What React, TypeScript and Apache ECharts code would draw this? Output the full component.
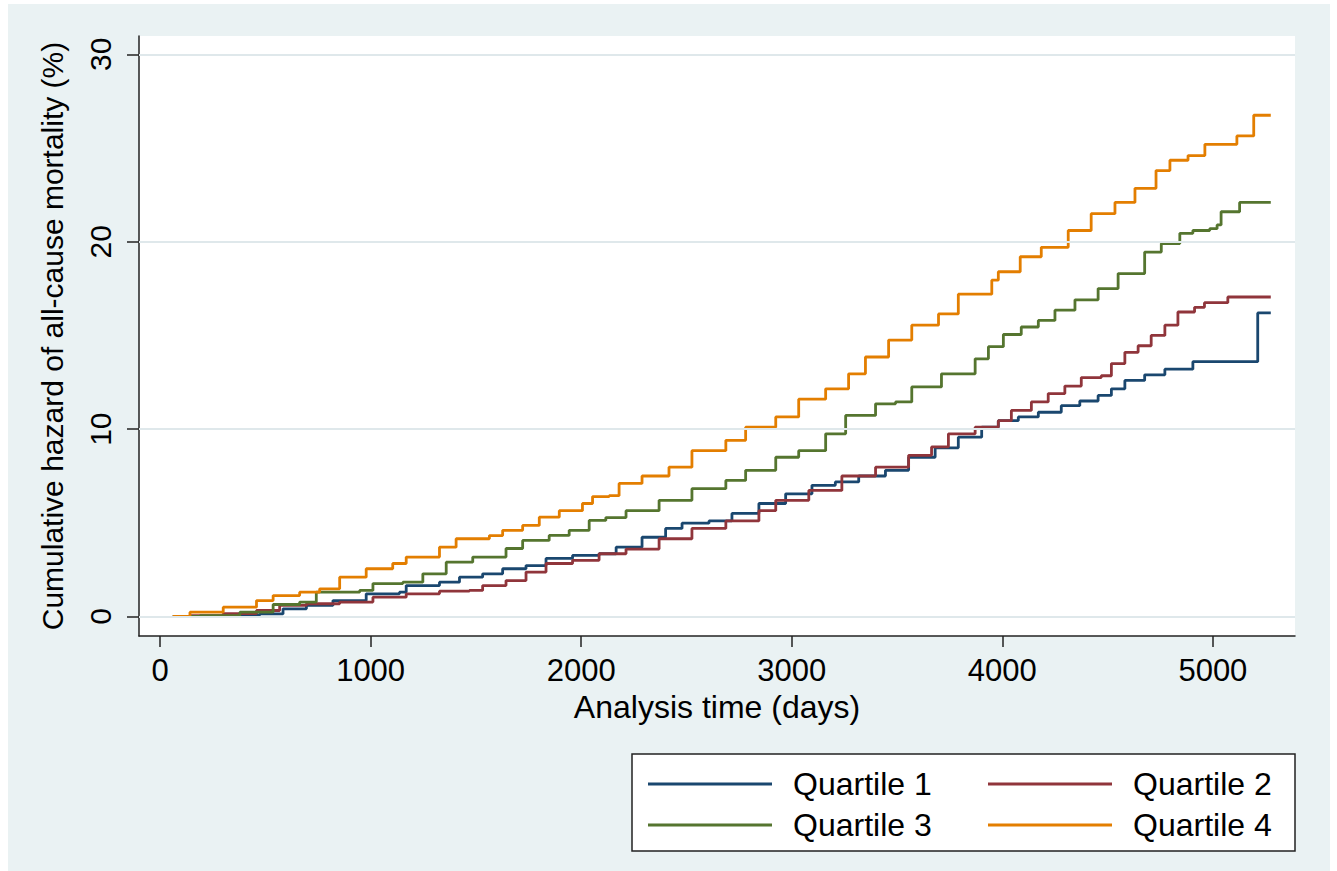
import React, { useEffect, useRef } from "react";
import * as echarts from "echarts";

const seriesNames = ["Quartile 1", "Quartile 2", "Quartile 3", "Quartile 4"];
const seriesColors = ["#1a476f", "#90353b", "#55752f", "#e37e00"];

const q1: [number, number][] = [
  [60, 0], [200, 0.03], [350, 0.08], [474, 0.14], [584, 0.41], [695, 0.59], [821, 0.85], [979, 1.21],
  [1137, 1.3], [1169, 1.65], [1327, 1.83], [1422, 2.1], [1532, 2.28], [1627, 2.55], [1738, 2.72],
  [1833, 3.1], [1959, 3.26], [2085, 3.35], [2166, 3.7], [2289, 4.23], [2401, 4.7], [2479, 4.98],
  [2607, 5.1], [2716, 5.5], [2844, 6.03], [2971, 6.55], [3096, 7.0], [3207, 7.18], [3318, 7.5],
  [3445, 7.8], [3555, 8.5], [3681, 9.0], [3791, 9.57], [3902, 10.1], [3981, 10.45], [4076, 10.65],
  [4171, 10.9], [4280, 11.25], [4368, 11.5], [4455, 11.8], [4518, 12.15], [4582, 12.6], [4676, 12.9],
  [4772, 13.2], [4905, 13.6], [5213, 16.2], [5275, 16.2],
];

const q2: [number, number][] = [
  [80, 0], [142, 0.05], [300, 0.15], [458, 0.32], [568, 0.59], [695, 0.68], [853, 0.77], [1011, 1.03],
  [1169, 1.21], [1327, 1.35], [1469, 1.39], [1532, 1.65], [1643, 1.92], [1738, 2.37], [1833, 2.83],
  [1959, 3.0], [2085, 3.35], [2213, 3.6], [2370, 4.15], [2526, 4.7], [2687, 5.1], [2844, 5.65],
  [2924, 6.2], [3081, 6.73], [3238, 7.5], [3398, 7.97], [3555, 8.6], [3664, 9.05], [3744, 9.75],
  [3871, 10.1], [3981, 10.45], [4043, 11.0], [4138, 11.45], [4218, 11.9], [4297, 12.3], [4375, 12.75],
  [4470, 12.85], [4518, 13.5], [4582, 14.1], [4645, 14.45], [4707, 15.0], [4772, 15.55], [4834, 16.25],
  [4913, 16.5], [4960, 16.75], [5071, 17.05], [5275, 17.05],
];

const q3: [number, number][] = [
  [100, 0], [190, 0.05], [379, 0.23], [537, 0.64], [663, 0.77], [742, 1.3], [948, 1.39], [1011, 1.76],
  [1153, 1.83], [1248, 2.28], [1359, 2.9], [1485, 3.17], [1643, 3.63], [1722, 4.06], [1848, 4.33],
  [1943, 4.6], [2038, 5.13], [2117, 5.28], [2213, 5.65], [2370, 6.2], [2526, 6.82], [2687, 7.26],
  [2781, 7.8], [2924, 8.5], [3033, 8.85], [3161, 9.75], [3256, 10.73], [3398, 11.35], [3493, 11.45],
  [3570, 12.25], [3711, 12.95], [3871, 13.75], [3934, 14.4], [4005, 15.05], [4090, 15.45], [4171, 15.8],
  [4250, 16.35], [4345, 16.9], [4455, 17.5], [4550, 18.3], [4676, 19.45], [4755, 19.9], [4843, 20.45],
  [4905, 20.6], [4985, 20.7], [5020, 20.9], [5039, 21.6], [5127, 22.1], [5275, 22.1],
];

const q4: [number, number][] = [
  [60, 0], [142, 0.23], [300, 0.5], [458, 0.85], [537, 1.12], [663, 1.3], [758, 1.48], [853, 2.1],
  [979, 2.55], [1105, 2.83], [1169, 3.17], [1327, 3.7], [1406, 4.15], [1564, 4.32], [1627, 4.6],
  [1722, 4.86], [1801, 5.3], [1896, 5.65], [2006, 6.03], [2054, 6.4], [2133, 6.45], [2180, 7.1],
  [2289, 7.5], [2417, 7.97], [2526, 8.85], [2687, 9.4], [2781, 10.1], [2924, 10.65], [3033, 11.6],
  [3161, 12.15], [3270, 12.95], [3350, 13.85], [3460, 14.75], [3570, 15.55], [3697, 16.15], [3791, 17.2],
  [3950, 17.95], [3981, 18.4], [4085, 19.2], [4185, 19.7], [4313, 20.6], [4422, 21.5], [4535, 22.1],
  [4630, 22.85], [4730, 23.8], [4796, 24.35], [4882, 24.6], [4962, 25.2], [5114, 25.65], [5194, 26.75],
  [5275, 26.75],
];

const xTicks = [0, 1000, 2000, 3000, 4000, 5000];
const yTicks = [0, 10, 20, 30];

const FONT = "'Liberation Sans', Arial, Helvetica, sans-serif";

export default function App() {
  const ref = useRef<HTMLDivElement>(null);

  useEffect(() => {
    if (!ref.current) return;
    const chart = echarts.init(ref.current, undefined, { renderer: "svg" });
    const allData = [q1, q2, q3, q4];

    const legendCommon = {
      icon: "rect",
      itemWidth: 124,
      itemHeight: 3,
      itemGap: 45,
      padding: 0,
      selectedMode: false,
      textStyle: {
        fontFamily: FONT,
        fontSize: 32,
        color: "#000",
        width: 150,
        padding: [0, 0, 0, 16],
        lineHeight: 30,
      },
    };

    chart.setOption({
      animation: false,
      backgroundColor: "#ffffff",
      textStyle: { fontFamily: FONT },
      graphic: [
        {
          type: "rect",
          z: -10,
          silent: true,
          shape: { x: 8, y: 4, width: 1322, height: 867 },
          style: { fill: "#eaf2f3" },
        },
        {
          type: "rect",
          z: 1,
          silent: true,
          shape: { x: 632, y: 754, width: 663, height: 97 },
          style: { fill: "#ffffff", stroke: "#222", lineWidth: 1.5 },
        },
      ],
      grid: {
        left: 139,
        top: 36,
        width: 1156,
        height: 600,
        show: true,
        backgroundColor: "#ffffff",
        borderWidth: 0,
      },
      legend: [
        { ...legendCommon, left: 648, top: 768, data: [seriesNames[0], seriesNames[1]] },
        { ...legendCommon, left: 648, top: 809, data: [seriesNames[2], seriesNames[3]] },
      ],
      xAxis: {
        type: "value",
        min: -100,
        max: 5390,
        name: "Analysis time (days)",
        nameLocation: "middle",
        nameGap: 49,
        nameTextStyle: { fontFamily: FONT, fontSize: 32, color: "#000" },
        axisLine: { show: true, onZero: false, lineStyle: { color: "#222", width: 1.5 } },
        axisTick: { show: true, length: 11, lineStyle: { color: "#222", width: 1.5 }, customValues: xTicks },
        axisLabel: {
          fontFamily: FONT,
          fontSize: 31,
          color: "#000",
          margin: 19,
          customValues: xTicks,
          formatter: (v: number) => String(v),
        },
        splitLine: { show: false },
      },
      yAxis: {
        type: "value",
        min: -1.04,
        max: 30.98,
        name: "Cumulative hazard of all-cause mortality (%)",
        nameLocation: "middle",
        nameGap: 72,
        nameRotate: 90,
        nameTextStyle: { fontFamily: FONT, fontSize: 30, color: "#000" },
        axisLine: { show: true, onZero: false, lineStyle: { color: "#222", width: 1.5 } },
        axisTick: { show: true, length: 12, lineStyle: { color: "#222", width: 1.5 }, customValues: yTicks },
        axisLabel: {
          fontFamily: FONT,
          fontSize: 30,
          color: "#000",
          margin: 24,
          rotate: 90,
          customValues: yTicks,
          formatter: (v: number) => String(v),
        },
        splitLine: { show: false },
      },
      series: [
        {
          name: "grid",
          type: "line",
          data: [],
          z: 1,
          silent: true,
          markLine: {
            silent: true,
            symbol: ["none", "none"],
            label: { show: false },
            lineStyle: { color: "#dfe8eb", width: 2, type: "solid" },
            data: yTicks.map((v) => ({ yAxis: v })),
          },
        },
        ...seriesNames.map((name, i) => ({
          name,
          type: "line",
          step: "end",
          data: allData[i],
          showSymbol: false,
          symbol: "none",
          color: seriesColors[i],
          lineStyle: { color: seriesColors[i], width: 2.8 },
          z: 3,
        })),
      ],
    });

    return () => chart.dispose();
  }, []);

  return (
    <div
      ref={ref}
      style={{ position: "absolute", left: 0, top: 0, width: 1337, height: 871 }}
    />
  );
}
